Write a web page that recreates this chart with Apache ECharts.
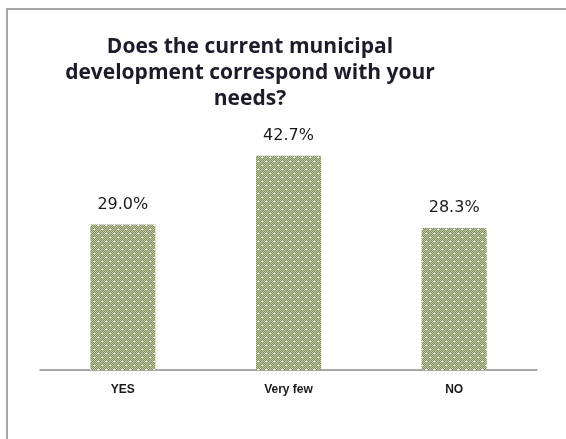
<!DOCTYPE html>
<html>
<head>
<meta charset="utf-8">
<script src="https://cdn.jsdelivr.net/npm/echarts@6/dist/echarts.min.js"></script>
<style>
html,body{margin:0;padding:0;background:#fff;}
#c{width:566px;height:439px;}
</style>
</head>
<body>
<div id="c"></div>
<script>
var categories = ['YES', 'Very few', 'NO'];
var values = [29.0, 42.7, 28.3];
var titleText = 'Does the current municipal\ndevelopment correspond with your\nneeds?';

// dotted olive pattern
var pc = document.createElement('canvas');
pc.width = 8; pc.height = 8;
var g = pc.getContext('2d');
g.fillStyle = '#7f8d5a';
g.fillRect(0, 0, 8, 8);
g.fillStyle = '#c3caa9';
for (var y = 0; y < 8; y++) {
  for (var x = 0; x < 8; x++) {
    if ((x + y) % 2 === 0) g.fillRect(x, y, 1, 1);
  }
}
g.fillStyle = '#ffffff';
g.fillRect(1, 1, 2, 1);
g.fillRect(5, 5, 2, 1);

var chart = echarts.init(document.getElementById('c'), null, {renderer: 'canvas'});
chart.setOption({
  backgroundColor: '#ffffff',
  animation: false,
  graphic: [{
    type: 'rect',
    shape: {x: 7, y: 9, width: 700, height: 600},
    style: {fill: 'none', stroke: '#a6a6a6', lineWidth: 2},
    z: -1
  }, {
    type: 'text',
    x: 250, y: 34,
    style: {
      text: titleText,
      align: 'center',
      verticalAlign: 'top',
      font: 'bold 21px "Open Sans", sans-serif',
      fill: '#1b1b2a',
      lineHeight: 26
    }
  }],
  grid: {left: 40, right: 29, top: 119, bottom: 69},
  xAxis: {
    type: 'category',
    data: categories,
    axisLine: {lineStyle: {color: '#8c8c8c', width: 1.5}},
    axisTick: {show: false},
    axisLabel: {color: '#1a1a1a', fontFamily: 'Liberation Sans, Arial, sans-serif', fontSize: 12, fontWeight: 'bold', margin: 14}
  },
  yAxis: {
    type: 'value', min: 0, max: 50,
    show: false,
    splitLine: {show: false}
  },
  series: [{
    type: 'bar',
    data: values,
    barWidth: 65,
    itemStyle: {color: {image: pc, repeat: 'repeat'}},
    label: {
      show: true, position: 'top', distance: 12,
      formatter: function (p) { return p.value.toFixed(1) + '%'; },
      color: '#1a1a1a',
      fontFamily: '"DejaVu Sans", sans-serif',
      fontSize: 16
    }
  }]
});
</script>
</body>
</html>
